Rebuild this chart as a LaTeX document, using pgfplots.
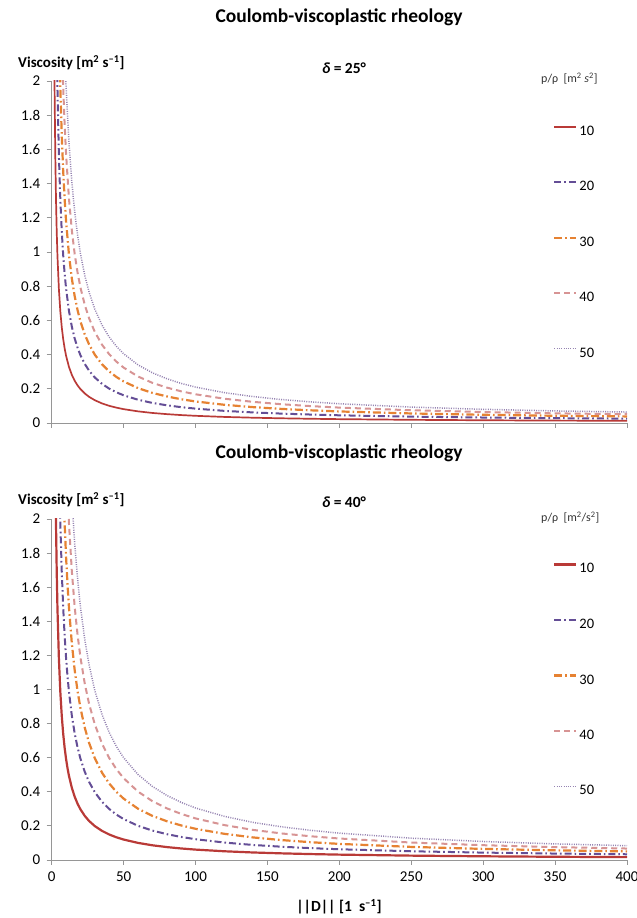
\documentclass[border=0pt]{standalone}
\usepackage{fontspec}
\setmainfont{Carlito}
\usepackage{pgfplots}
\usepackage{pgfplotstable}
\pgfplotsset{compat=1.18}

\definecolor{cA}{RGB}{185,58,55}
\definecolor{cB}{RGB}{100,78,150}
\definecolor{cC}{RGB}{230,130,50}
\definecolor{cD}{RGB}{215,148,148}
\definecolor{cE}{RGB}{150,132,178}
\definecolor{axgray}{RGB}{150,150,150}

% delta = 25 deg
\pgfplotstableread{
D p10 p20 p30 p40 p50
1.8 2.170 4.339 6.509 8.679 10.849
2 1.953 3.906 5.859 7.812 9.765
2.5 1.563 3.126 4.689 6.252 7.815
3 1.303 2.606 3.909 5.212 6.515
3.5 1.117 2.235 3.352 4.469 5.587
4 0.978 1.956 2.934 3.912 4.890
5 0.783 1.566 2.349 3.132 3.915
6 0.653 1.306 1.959 2.612 3.265
7 0.560 1.120 1.680 2.240 2.801
8 0.4905 0.981 1.4715 1.962 2.4525
9 0.4363 0.8726 1.3089 1.7452 2.1815
10 0.393 0.786 1.179 1.572 1.965
12 0.328 0.656 0.984 1.312 1.640
14 0.2816 0.5632 0.8448 1.1264 1.408
16 0.2468 0.4936 0.7404 0.9872 1.234
18 0.2197 0.4394 0.6591 0.8788 1.0985
20 0.198 0.396 0.594 0.792 0.990
23 0.1726 0.3452 0.5178 0.6904 0.863
26 0.153 0.306 0.459 0.612 0.765
30 0.133 0.266 0.399 0.532 0.665
35 0.1144 0.2288 0.3432 0.4576 0.572
40 0.1005 0.201 0.3015 0.402 0.5025
45 0.0897 0.1794 0.2691 0.3588 0.4485
50 0.081 0.162 0.243 0.324 0.405
60 0.068 0.136 0.204 0.272 0.340
70 0.0587 0.1174 0.1761 0.2348 0.2935
80 0.0518 0.1036 0.1554 0.2072 0.259
90 0.0463 0.0926 0.1389 0.1852 0.2315
100 0.042 0.084 0.126 0.168 0.210
120 0.0355 0.071 0.1065 0.142 0.1775
140 0.0309 0.0618 0.0927 0.1236 0.1545
160 0.0274 0.0548 0.0822 0.1096 0.137
180 0.0247 0.0494 0.0741 0.0988 0.1235
200 0.0225 0.045 0.0675 0.09 0.1125
250 0.0186 0.0372 0.0558 0.0744 0.093
300 0.016 0.032 0.048 0.064 0.080
350 0.0141 0.0282 0.0423 0.0564 0.0705
400 0.0128 0.0256 0.0384 0.0512 0.064
}\tabA

% delta = 40 deg
\pgfplotstableread{
D p10 p20 p30 p40 p50
2.5 2.362 4.724 7.086 9.448 11.81
3 1.969 3.937 5.906 7.875 9.844
3.5 1.688 3.375 5.063 6.751 8.439
4 1.477 2.954 4.431 5.908 7.385
5 1.182 2.364 3.546 4.728 5.91
6 0.985 1.971 2.956 3.941 4.927
7 0.845 1.690 2.535 3.380 4.225
8 0.7395 1.479 2.2185 2.958 3.6975
9 0.6576 1.3152 1.9728 2.6304 3.288
10 0.592 1.184 1.776 2.368 2.96
11 0.5384 1.0768 1.6152 2.1536 2.692
12 0.4937 0.9874 1.4811 1.9748 2.4685
14 0.4234 0.8468 1.2702 1.6936 2.117
16 0.3708 0.7416 1.1124 1.4832 1.854
18 0.3298 0.6596 0.9894 1.3192 1.649
20 0.297 0.594 0.891 1.188 1.485
23 0.2585 0.517 0.7755 1.034 1.2925
26 0.2289 0.4578 0.6867 0.9156 1.1445
30 0.1987 0.3974 0.5961 0.7948 0.9935
35 0.1706 0.3412 0.5118 0.6824 0.853
40 0.1495 0.299 0.4485 0.598 0.7475
45 0.1331 0.2662 0.3993 0.5324 0.6655
50 0.120 0.240 0.360 0.480 0.600
60 0.1003 0.2006 0.3009 0.4012 0.5015
70 0.0863 0.1726 0.2589 0.3452 0.4315
80 0.0758 0.1516 0.2274 0.3032 0.379
90 0.0676 0.1352 0.2028 0.2704 0.338
100 0.061 0.122 0.183 0.244 0.305
120 0.0512 0.1024 0.1536 0.2048 0.256
140 0.0441 0.0882 0.1323 0.1764 0.2205
160 0.0389 0.0778 0.1167 0.1556 0.1945
180 0.0348 0.0696 0.1044 0.1392 0.174
200 0.0315 0.063 0.0945 0.126 0.1575
250 0.0256 0.0512 0.0768 0.1024 0.128
300 0.0217 0.0434 0.0651 0.0868 0.1085
350 0.0189 0.0378 0.0567 0.0756 0.0945
400 0.0168 0.0336 0.0504 0.0672 0.084
}\tabB

\pgfplotsset{
  panel/.style={
    scale only axis, width=575.3bp,
    xmin=0, xmax=400, ymin=0, ymax=2,
    axis x line*=bottom, axis y line*=left,
    axis line style={axgray, line width=0.8bp},
    every tick/.style={axgray, line width=0.8bp},
    tick align=outside, major tick length=5bp,
    xtick={0,50,...,400}, ytick={0,0.2,...,2.01},
    /pgf/number format/assume math mode=true,
    ticklabel style={font=\fontsize{15bp}{17bp}\selectfont, text=black},
    yticklabel style={xshift=-3bp},
    xticklabel style={yshift=-3bp},
    legend cell align=left,
    legend style={draw=none, fill=none, anchor=west,
      at={(0.8662,0.529)}, row sep=45bp, column sep=2bp,
      font=\fontsize{14.5bp}{16bp}\selectfont,
      nodes={inner sep=0pt, text height=9bp, text depth=1bp}},
    legend image code/.code={\draw[#1] (0bp,4.5bp) -- (22bp,4.5bp);},
    clip=true,
  },
  sA/.style={cA, line width=1.7bp},
  sB/.style={cB, line width=2bp, dash pattern=on 7bp off 3bp on 1.6bp off 3bp},
  sC/.style={cC, line width=2.2bp, dash pattern=on 8bp off 3bp on 1.6bp off 3bp},
  sD/.style={cD, line width=2bp, dash pattern=on 6bp off 4bp},
  sE/.style={cE, line width=1.5bp, dash pattern=on 1bp off 1.3bp},
}

\begin{document}
\begin{tikzpicture}
\useasboundingbox (0,0) rectangle (637bp,918bp);

% ---------- top panel ----------
\begin{axis}[panel, at={(51.7bp,495bp)}, anchor=south west, height=342bp,
  xticklabels={}]
\addplot[sA] table[x=D,y=p10] {\tabA}; \addlegendentry{10}
\addplot[sB] table[x=D,y=p20] {\tabA}; \addlegendentry{20}
\addplot[sC] table[x=D,y=p30] {\tabA}; \addlegendentry{30}
\addplot[sD] table[x=D,y=p40] {\tabA}; \addlegendentry{40}
\addplot[sE] table[x=D,y=p50] {\tabA}; \addlegendentry{50}
\end{axis}

% ---------- bottom panel ----------
\begin{axis}[panel, at={(51.7bp,58bp)}, anchor=south west, height=341bp]
\addplot[sA, line width=2.2bp] table[x=D,y=p10] {\tabB}; \addlegendentry{10}
\addplot[sB] table[x=D,y=p20] {\tabB}; \addlegendentry{20}
\addplot[sC] table[x=D,y=p30] {\tabB}; \addlegendentry{30}
\addplot[sD] table[x=D,y=p40] {\tabB}; \addlegendentry{40}
\addplot[sE] table[x=D,y=p50] {\tabB}; \addlegendentry{50}
\end{axis}

% ---------- texts ----------
\node[font=\fontsize{19.5bp}{22bp}\selectfont\bfseries] at (339bp,901bp) {Coulomb-viscoplastic rheology};
\node[font=\fontsize{19.5bp}{22bp}\selectfont\bfseries] at (339bp,465bp) {Coulomb-viscoplastic rheology};

\node[anchor=west, inner sep=0pt, font=\fontsize{15bp}{17bp}\selectfont\bfseries] at (18bp,855bp) {Viscosity [m\textsuperscript{2} s\textsuperscript{\textendash1}]};
\node[anchor=west, inner sep=0pt, font=\fontsize{15bp}{17bp}\selectfont\bfseries] at (18bp,418bp) {Viscosity [m\textsuperscript{2} s\textsuperscript{\textendash1}]};

\node[font=\fontsize{15.5bp}{18bp}\selectfont\bfseries] at (344bp,850bp) {\textit{δ} = 25°};
\node[font=\fontsize{15.5bp}{18bp}\selectfont\bfseries] at (344bp,416bp) {\textit{δ} = 40°};

\node[anchor=west, inner sep=0pt, font=\fontsize{12bp}{14bp}\selectfont, text=black!80] at (541bp,839bp) {p/ρ\ \ [m\textsuperscript{2}\ \textit{s}\textsuperscript{2}]};
\node[anchor=west, inner sep=0pt, font=\fontsize{12bp}{14bp}\selectfont, text=black!80] at (541bp,400bp) {p/ρ\ \ [m\textsuperscript{2}/s\textsuperscript{2}]};

\node[font=\fontsize{15.5bp}{18bp}\selectfont\bfseries] at (339bp,11bp) {||D|| [1\ \ s\textsuperscript{\textendash1}]};
\end{tikzpicture}
\end{document}
